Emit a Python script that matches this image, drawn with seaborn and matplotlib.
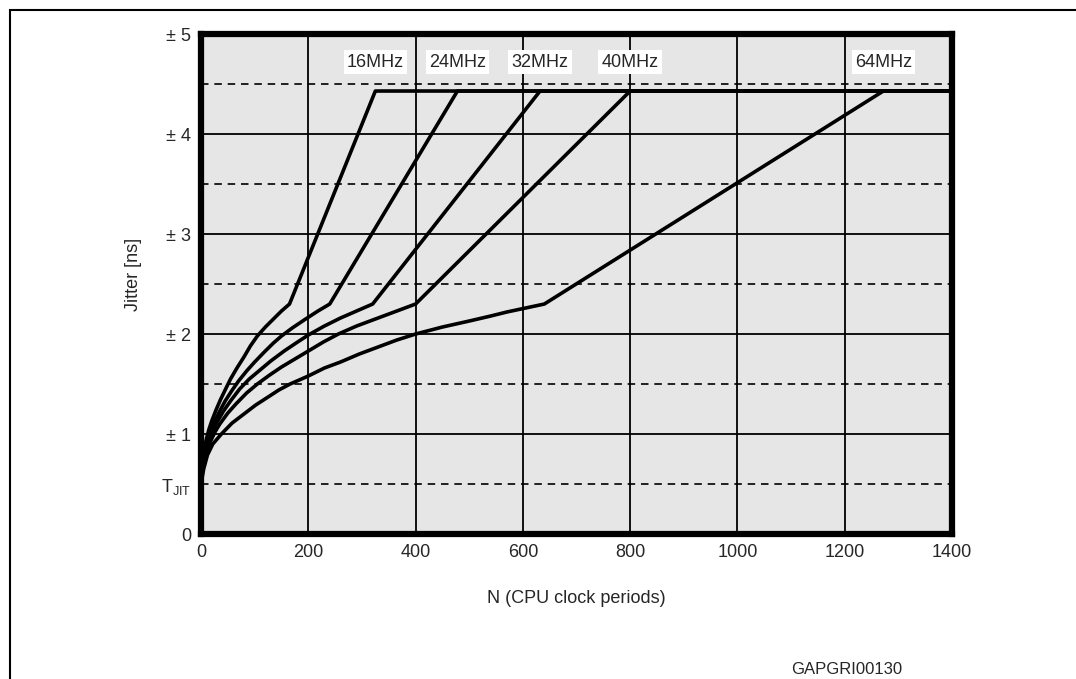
import pandas as pd
import seaborn as sns
import matplotlib.pyplot as plt
from matplotlib.patches import Rectangle

# --- data ---
freqs = ["16MHz", "24MHz", "32MHz", "40MHz", "64MHz"]

n_16 = [0, 2, 5, 10, 15, 20, 28, 36, 45, 55, 67, 80, 92, 105, 120, 135, 150, 165,
        325, 1400]
jit_16 = [0.5, 0.7, 0.82, 0.95, 1.05, 1.13, 1.24, 1.34, 1.44, 1.55, 1.66, 1.77, 1.88,
          1.98, 2.07, 2.15, 2.23, 2.3, 4.43, 4.43]

n_24 = [0, 3, 7, 12, 18, 25, 35, 45, 57, 70, 85, 100, 118, 135, 150, 170, 195, 218,
        240, 478, 1400]
jit_24 = [0.5, 0.7, 0.83, 0.94, 1.03, 1.12, 1.23, 1.33, 1.43, 1.53, 1.63, 1.72, 1.82,
          1.91, 1.98, 2.06, 2.15, 2.23, 2.3, 4.43, 4.43]

n_32 = [0, 3, 8, 15, 22, 30, 42, 55, 72, 90, 110, 130, 155, 180, 200, 230, 260, 290,
        320, 632, 1400]
jit_32 = [0.5, 0.68, 0.82, 0.94, 1.03, 1.12, 1.23, 1.33, 1.45, 1.55, 1.64, 1.73, 1.83,
          1.92, 1.99, 2.08, 2.16, 2.23, 2.3, 4.43, 4.43]

n_40 = [0, 4, 10, 18, 26, 35, 50, 65, 85, 105, 128, 150, 175, 200, 228, 256, 290, 330,
        365, 400, 800, 1400]
jit_40 = [0.5, 0.68, 0.82, 0.93, 1.02, 1.1, 1.21, 1.3, 1.41, 1.5, 1.59, 1.67, 1.75,
          1.83, 1.92, 2.0, 2.08, 2.16, 2.23, 2.3, 4.43, 4.43]

n_64 = [0, 5, 12, 22, 38, 58, 80, 102, 125, 145, 166, 200, 230, 260, 295, 330, 365,
        400, 450, 500, 540, 570, 605, 640, 1272, 1400]
jit_64 = [0.5, 0.65, 0.79, 0.9, 1.0, 1.11, 1.2, 1.29, 1.37, 1.44, 1.5, 1.58, 1.66,
          1.72, 1.8, 1.87, 1.94, 2.0, 2.07, 2.13, 2.18, 2.22, 2.26, 2.3, 4.43, 4.43]

# where each frequency label sits (x of the curve top) and its height
label_x = [325, 478, 632, 800, 1272]
label_y = 4.72

x_ticks = [0, 200, 400, 600, 800, 1000, 1200, 1400]
y_ticks = [0, 0.5, 1, 2, 3, 4, 5]
y_tick_labels = ["0", r"$\mathregular{T_{JIT}}$", "± 1", "± 2", "± 3", "± 4", "± 5"]
solid_levels = [1, 2, 3, 4]
dashed_levels = [0.5, 1.5, 2.5, 3.5, 4.5]

# --- build long table ---
parts = []
for f, n, j in zip(freqs, [n_16, n_24, n_32, n_40, n_64],
                   [jit_16, jit_24, jit_32, jit_40, jit_64]):
    parts.append(pd.DataFrame({"N": n, "jitter": j, "freq": f}))
df = pd.concat(parts, ignore_index=True)

sns.set_theme(style="white", rc={
    "axes.facecolor": "#e6e6e6",
    "axes.edgecolor": "black",
    "axes.linewidth": 4.5,
    "xtick.labelsize": 13,
    "ytick.labelsize": 13,
    "axes.labelsize": 13,
})
plt.rcParams["font.family"] = ["Liberation Sans", "DejaVu Sans"]
plt.rcParams["mathtext.fontset"] = "custom"
plt.rcParams["mathtext.rm"] = "Liberation Sans"

fig = plt.figure(figsize=(10.76, 6.79), dpi=100)
ax = fig.add_axes([0.1868, 0.2135, 0.698, 0.7364])

# guide lines
for x in x_ticks[1:-1]:
    ax.axvline(x, color="black", lw=1.3, zorder=1)
for y in solid_levels:
    ax.axhline(y, color="black", lw=1.3, zorder=1)
for y in dashed_levels:
    ax.axhline(y, color="black", lw=1.2, ls=(0, (4.5, 3.5)), zorder=1)

sns.lineplot(data=df, x="N", y="jitter", hue="freq", palette=["black"] * 5,
             estimator=None, sort=False, lw=2.6, legend=False, ax=ax, zorder=3)

for f, lx in zip(freqs, label_x):
    ax.text(lx, label_y, f, ha="center", va="center", fontsize=13, zorder=4,
            bbox=dict(boxstyle="square,pad=0.18", fc="white", ec="none"))

ax.set_xlim(0, 1400)
ax.set_ylim(0, 5)
ax.set_xticks(x_ticks)
ax.set_yticks(y_ticks)
ax.set_yticklabels(y_tick_labels)
ax.tick_params(length=0, pad=7)
ax.set_xlabel("N (CPU clock periods)")
ax.set_ylabel("Jitter [ns]")
ax.xaxis.set_label_coords(0.5, -0.112)
ax.yaxis.set_label_coords(-0.079, 0.52)
for s in ax.spines.values():
    s.set_zorder(5)

# outer figure box (runs off the right and bottom edges)
fig.patches.append(Rectangle((10 / 1076, -0.1), 1.2, 1 - 10 / 679 + 0.1,
                             transform=fig.transFigure, fill=False,
                             ec="black", lw=1.5))
fig.text(0.787, 0.0147, "GAPGRI00130", ha="center", va="center", fontsize=12)

fig.savefig("out.png", dpi=100)
plt.close()
